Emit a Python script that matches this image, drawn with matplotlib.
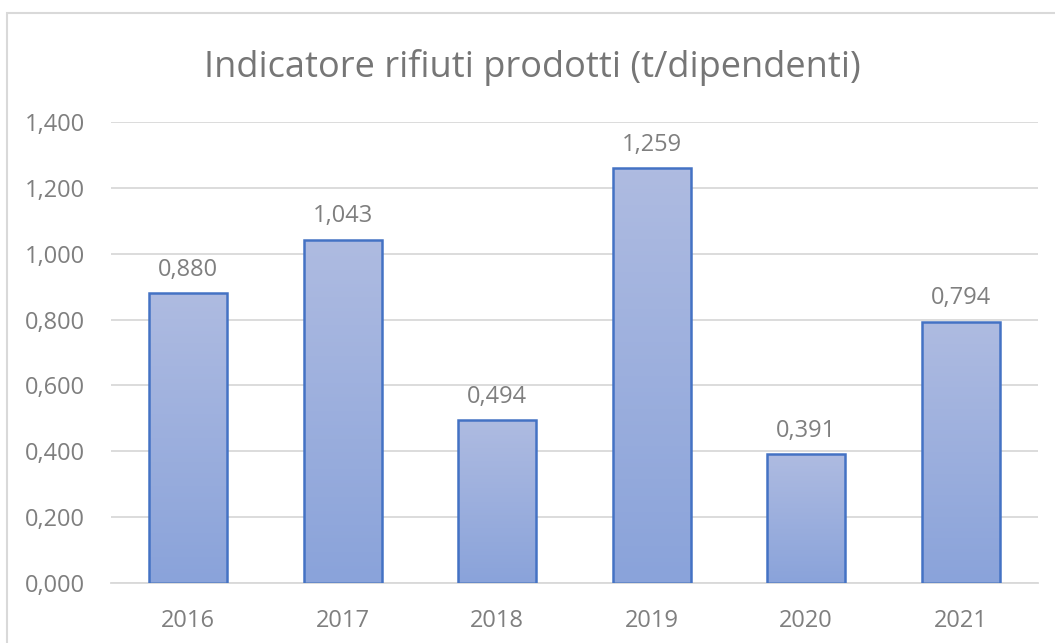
import matplotlib.pyplot as plt
import numpy as np
from matplotlib.colors import LinearSegmentedColormap
from matplotlib.patches import Rectangle

years = ["2016", "2017", "2018", "2019", "2020", "2021"]
values = [0.880, 1.043, 0.494, 1.259, 0.391, 0.794]
yticks = [0.0, 0.2, 0.4, 0.6, 0.8, 1.0, 1.2, 1.4]


def it_fmt(v):
    return f"{v:.3f}".replace(".", ",")


plt.rcParams['font.family'] = ['Open Sans', 'DejaVu Sans']

fig = plt.figure(figsize=(10.55, 6.43), dpi=100)
ax = fig.add_axes([111 / 1055, 1 - 583 / 643, 927 / 1055, 461 / 643])

# chart border
fig.add_artist(Rectangle((7 / 1055, -0.1), 1.2, 1 - 13 / 643 + 0.1, transform=fig.transFigure,
                         fill=False, edgecolor="#d9d9d9", linewidth=1.5))

x = np.arange(len(years))
grad = LinearSegmentedColormap.from_list("g", ["#8aa3da", "#aebbe1"])
bw = 0.505
bars = ax.bar(x, values, width=bw, color="none", edgecolor="#4472c4", linewidth=1.8, zorder=3)
for b in bars:
    x0, y0 = b.get_x(), b.get_y()
    img = ax.imshow(np.linspace(0, 1, 100).reshape(-1, 1), cmap=grad, origin="lower",
                    extent=[x0, x0 + b.get_width(), y0, y0 + b.get_height()],
                    aspect="auto", zorder=2)
    img.set_clip_path(b)

for xi, v in zip(x, values):
    ax.text(xi, v + 0.035, it_fmt(v), ha="center", va="bottom", fontsize=17, color="#7f7f7f")

ax.set_xlim(-0.5, len(years) - 0.5)
ax.set_ylim(0, 1.4)
ax.set_yticks(yticks)
ax.set_yticklabels([it_fmt(t) for t in yticks])
ax.set_xticks(x)
ax.set_xticklabels(years)
ax.tick_params(axis="both", length=0, labelsize=17, labelcolor="#7f7f7f")
ax.tick_params(axis="y", pad=18.5)
ax.tick_params(axis="x", pad=19)
ax.grid(axis="y", color="#d9d9d9", linewidth=1.3, zorder=0)
ax.set_axisbelow(True)
for s in ["top", "right", "left"]:
    ax.spines[s].set_visible(False)
ax.spines["bottom"].set_color("#d9d9d9")
ax.spines["bottom"].set_linewidth(1.3)

fig.text(532 / 1055, 1 - 68 / 643, "Indicatore rifiuti prodotti (t/dipendenti)",
         ha="center", va="center", fontsize=26, color="#767676")

fig.savefig("out.png", dpi=100)
